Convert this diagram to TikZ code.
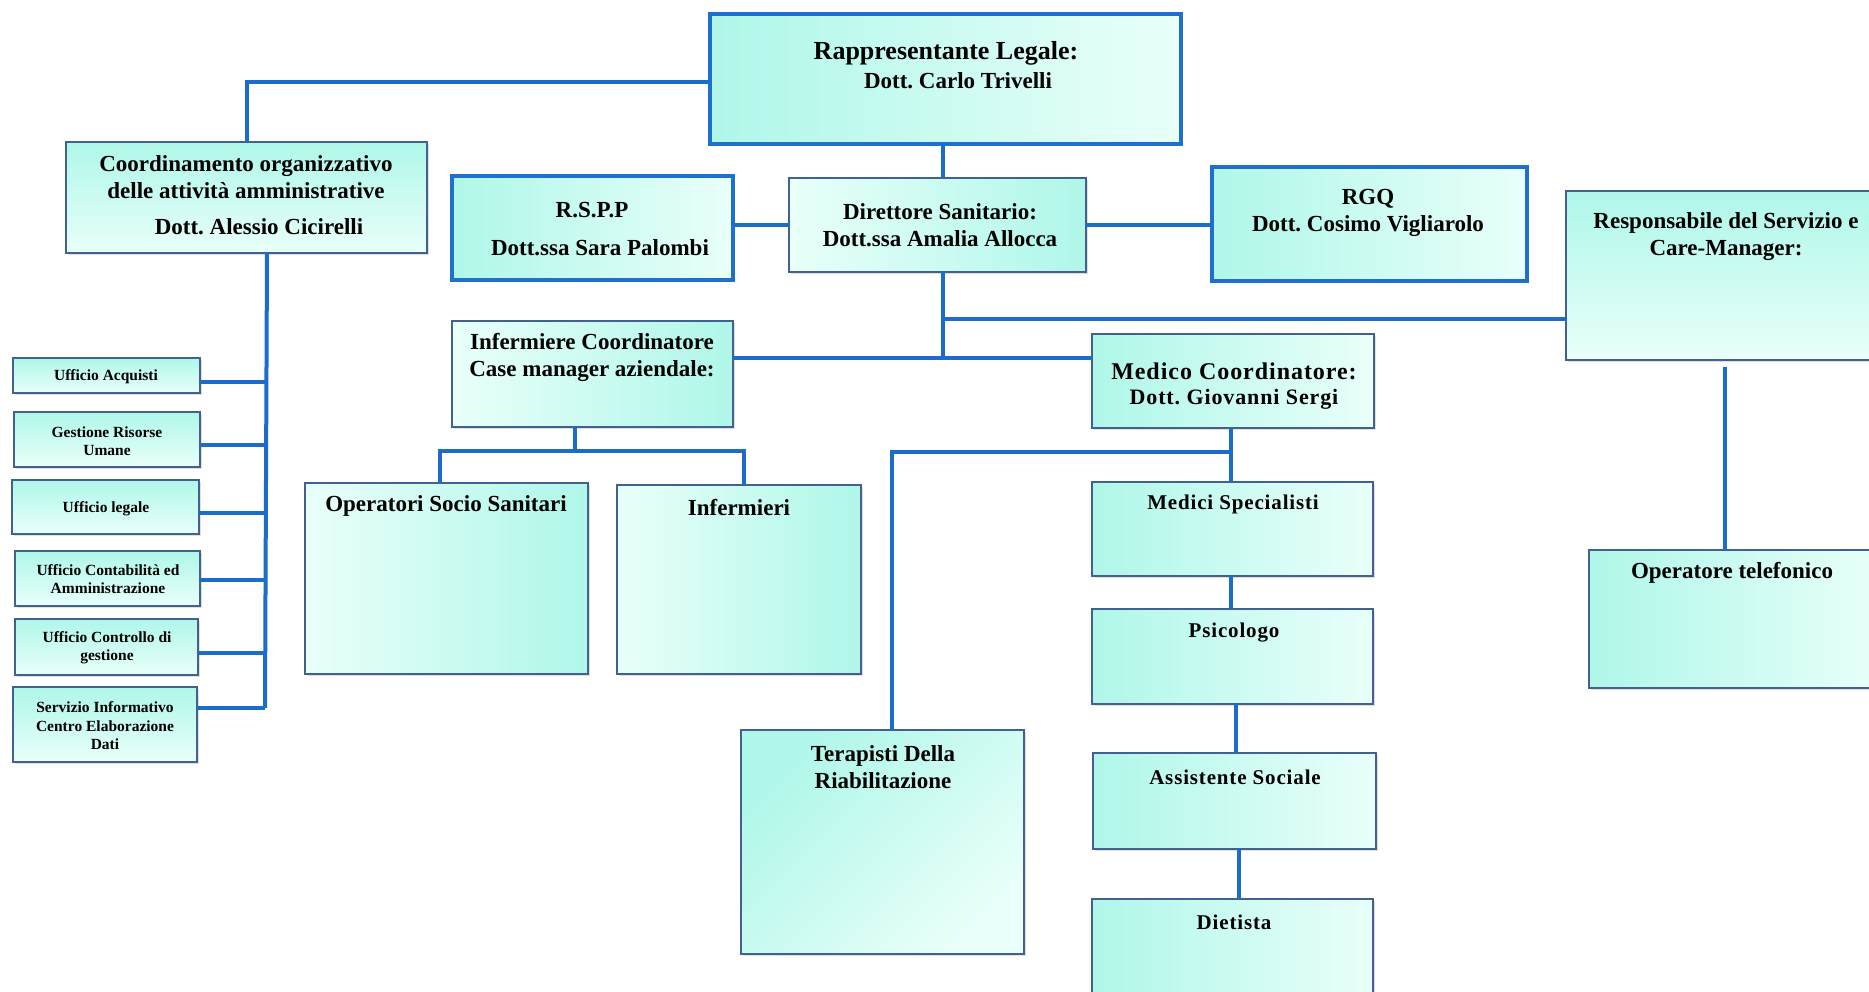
\documentclass[tikz,border=0pt]{standalone}
\usepackage{fontspec}
\setmainfont{Liberation Serif}
\newfontfamily\widefont[LetterSpace=4]{Liberation Serif}
\usetikzlibrary{shadows}
\frenchspacing
\definecolor{cyanA}{HTML}{AFF7E9}
\definecolor{cyanB}{HTML}{E9FFFA}
\definecolor{linkblue}{HTML}{1C6DC9}
\definecolor{edgeblue}{HTML}{1F70CC}
\definecolor{edgedark}{HTML}{43618F}
\tikzset{
  box/.style={rectangle, inner sep=0pt, outer sep=0pt, draw=edgedark, line width=2.5pt,
    drop shadow={shadow xshift=2pt, shadow yshift=-2pt, opacity=.25}},
  boxhi/.style={box, draw=edgeblue, line width=3.5pt},
  gl/.style={left color=cyanA, right color=cyanB},
  gr/.style={left color=cyanB, right color=cyanA},
  gt/.style={top color=cyanA, bottom color=cyanB},
  gdl/.style={shading=axis, shading angle=135, left color=cyanA, right color=cyanB},
  gdr/.style={shading=axis, shading angle=45, left color=cyanB, right color=cyanA},
  link/.style={draw=linkblue, line width=4pt},
  lbl/.style={font=\bfseries\fontsize{23}{27}\selectfont, align=center, inner sep=0pt},
  wlbl/.style={font=\widefont\bfseries\fontsize{21}{25}\selectfont, align=center, inner sep=0pt},
  small/.style={font=\bfseries\fontsize{15.5}{18.5}\selectfont, align=center, inner sep=0pt},
}
\begin{document}
\begin{tikzpicture}[x=1pt, y=-1pt]
\fill[white] (0,0) rectangle (1869,992);
\useasboundingbox (0,0) rectangle (1869,992);

% connector coordinates
\coordinate (dj) at (943,358);
\coordinate (dk) at (943,319);
\coordinate (ib) at (575,451);
\coordinate (ol) at (440,451);
\coordinate (or) at (744,451);
\coordinate (mt) at (892,452);
\coordinate (mx) at (1231,452);
\coordinate (lv) at (265,708);
\coordinate (lt) at (267,253);
\coordinate (h1) at (265,382);
\coordinate (h2) at (265,445);
\coordinate (h3) at (265,513);
\coordinate (h4) at (265,580);
\coordinate (h5) at (265,653);
\coordinate (h6) at (265,708);
\coordinate (rb) at (1725,367);
\coordinate (rl) at (700,82);

% boxes
\node[boxhi, gdl, minimum width=471, minimum height=130] (rappr) at (945.5,79) {};
\node[box, gt, minimum width=361, minimum height=111] (coord) at (246.5,197.5) {};
\node[boxhi, gl, minimum width=281, minimum height=104] (rspp) at (592.5,228) {};
\node[box, gr, minimum width=297, minimum height=94] (dir) at (937.5,225) {};
\node[boxhi, gdl, minimum width=315, minimum height=114] (rgq) at (1369.5,224) {};
\node[box, gt, minimum width=319, minimum height=169] (resp) at (1725.5,275.5) {};
\node[box, gdr, minimum width=281, minimum height=106] (infc) at (592.5,374) {};
\node[box, gl, minimum width=282, minimum height=94] (medc) at (1233,381) {};
\node[box, gr, minimum width=283, minimum height=191] (oss) at (446.5,578.5) {};
\node[box, gr, minimum width=244, minimum height=189] (inf) at (739,579.5) {};
\node[box, gdr, shading angle=225, minimum width=283, minimum height=224] (ter) at (882.5,842) {};
\node[box, gl, minimum width=281, minimum height=94] (medsp) at (1232.5,529) {};
\node[box, gl, minimum width=281, minimum height=95] (psi) at (1232.5,656.5) {};
\node[box, gl, minimum width=283, minimum height=96] (ass) at (1234.5,801) {};
\node[box, gl, minimum width=281, minimum height=101] (diet) at (1232.5,949.5) {};
\node[box, gdl, minimum width=296, minimum height=138] (optel) at (1737,619) {};

\node[box, gt, minimum width=187, minimum height=35] (acq) at (106.5,375.5) {};
\node[box, gt, minimum width=186, minimum height=55] (ges) at (107,439.5) {};
\node[box, gt, minimum width=187, minimum height=54] (leg) at (105.5,507) {};
\node[box, gt, minimum width=185, minimum height=55] (cont) at (107.5,578.5) {};
\node[box, gt, minimum width=183, minimum height=56] (ctrl) at (106.5,647) {};
\node[box, gt, minimum width=184, minimum height=75] (serv) at (105,724.5) {};

% links
\draw[link] (rappr.west |- rl) -| (coord.north);
\draw[link] (rappr.south -| dk) -- (dir.north -| dk);
\draw[link] (dir.west) -- (dir.west -| rspp.east);
\draw[link] (dir.east) -- (dir.east -| rgq.west);
\draw[link] (dir.south -| dj) -- (dj);
\draw[link] (dk) -- (dk -| resp.west);
\draw[link] (infc.east |- dj) -- (medc.west |- dj);
\draw[link] (infc.south -| ib) -- (ib);
\draw[link] (oss.north -| ol) -- (ol) -- (or) -- (inf.north -| or);
\draw[link] (medc.south -| mx) -- (medsp.north -| mx);
\draw[link] (mx) -- (mt) -- (ter.north -| mt);
\draw[link] (medsp.south -| mx) -- (psi.north -| mx);
\draw[link] ([xshift=3pt]psi.south) -- ([xshift=3pt]psi.south |- ass.north);
\draw[link] ([xshift=4pt]ass.south) -- ([xshift=4pt]ass.south |- diet.north);
\draw[link] (rb) -- (optel.north -| rb);
\draw[link] (lt) -- (lv);
\draw[link] (h1) -- (h1 -| acq.east);
\draw[link] (h2) -- (h2 -| ges.east);
\draw[link] (h3) -- (h3 -| leg.east);
\draw[link] (h4) -- (h4 -| cont.east);
\draw[link] (h5) -- (h5 -| ctrl.east);
\draw[link] (h6) -- (h6 -| serv.east);

% texts
\node[lbl, font=\bfseries\fontsize{26}{30}\selectfont] (t-rappr1) at (946,53) {Rappresentante Legale:};
\node[lbl] (t-rappr2) at (958,81) {Dott. Carlo Trivelli};
\node[lbl] (t-coord1) at (246,177) {Coordinamento organizzativo\\delle attività amministrative};
\node[lbl] (t-coord2) at (259,227) {Dott. Alessio Cicirelli};
\node[lbl] (t-rspp1) at (592,210) {R.S.P.P};
\node[lbl] (t-rspp2) at (600,248) {Dott.ssa Sara Palombi};
\node[lbl] (t-dir) at (940,225) {Direttore Sanitario:\\Dott.ssa Amalia Allocca};
\node[lbl] (t-rgq) at (1368,213) {RGQ\\Dott. Cosimo Vigliarolo};
\node[lbl] (t-resp) at (1726,237) {Responsabile del Servizio e\\Care-Manager:};
\node[lbl] (t-infc) at (592,357) {Infermiere Coordinatore\\Case manager aziendale:};
\node[wlbl, font=\widefont\bfseries\fontsize{24}{28}\selectfont] (t-medc1) at (1234,371) {Medico Coordinatore:};
\node[wlbl, font=\widefont\bfseries\fontsize{22}{26}\selectfont] (t-medc2) at (1234,399) {Dott. Giovanni Sergi};
\node[lbl] (t-oss) at (446,506) {Operatori Socio Sanitari};
\node[lbl] (t-inf) at (739,508) {Infermieri};
\node[lbl] (t-ter) at (883,767) {Terapisti Della\\Riabilitazione};
\node[wlbl] (t-medsp) at (1233,504) {Medici Specialisti};
\node[wlbl] (t-psi) at (1234,633) {Psicologo};
\node[wlbl] (t-ass) at (1235,777) {Assistente Sociale};
\node[wlbl] (t-diet) at (1234,922) {Dietista};
\node[lbl] (t-optel) at (1732,573) {Operatore telefonico};

\node[small] (t-acq) at (106,377) {Ufficio Acquisti};
\node[small] (t-ges) at (107,441) {Gestione Risorse\\Umane};
\node[small] (t-leg) at (106,509) {Ufficio legale};
\node[small] (t-cont) at (108,579) {Ufficio Contabilità ed\\Amministrazione};
\node[small] (t-ctrl) at (107,648) {Ufficio Controllo di\\gestione};
\node[small] (t-serv) at (105,726) {Servizio Informativo\\Centro Elaborazione\\Dati};
\end{tikzpicture}
\end{document}
